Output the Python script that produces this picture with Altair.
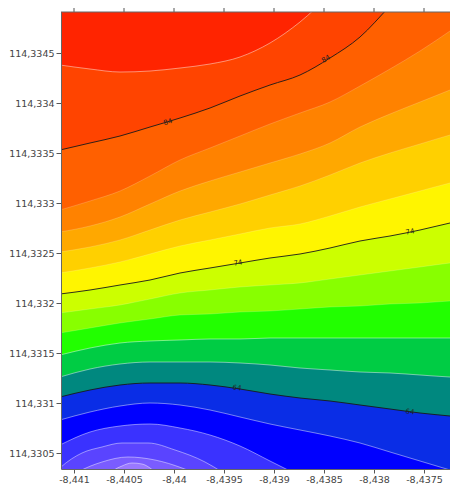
import altair as alt
import pandas as pd

# ---------------- data ----------------
X_DOMAIN = [-8.44113, -8.43724]
Y_DOMAIN = [114.33034, 114.33491]
X_TICKS = [-8.441, -8.4405, -8.44, -8.4395, -8.439, -8.4385, -8.438, -8.4375]
Y_TICKS = [114.3305, 114.331, 114.3315, 114.332, 114.3325, 114.333, 114.3335, 114.334, 114.3345]

X_GRID = [-8.44114, -8.44084, -8.44054, -8.44024, -8.43994, -8.43964, -8.43934, -8.43904,
          -8.43874, -8.43844, -8.43814, -8.43784, -8.43754, -8.43724, -8.43694]

C86 = [114.33438, 114.33434, 114.33431, 114.33432, 114.33435, 114.33439, 114.33446, 114.33460,
       114.33481, 114.33508, 114.33533, 114.33558, 114.33583, 114.33608, 114.33633]
C84 = [114.33353, 114.33360, 114.33367, 114.33376, 114.33385, 114.33395, 114.33407, 114.33418,
       114.33428, 114.33445, 114.33466, 114.33497, 114.33528, 114.33558, 114.33588]
C82 = [114.33293, 114.33302, 114.33312, 114.33327, 114.33343, 114.33355, 114.33367, 114.33379,
       114.33390, 114.33401, 114.33417, 114.33434, 114.33452, 114.33472, 114.33493]
C80 = [114.33271, 114.33277, 114.33286, 114.33299, 114.33312, 114.33322, 114.33331, 114.33340,
       114.33349, 114.33360, 114.33376, 114.33389, 114.33401, 114.33413, 114.33425]
C78 = [114.33251, 114.33256, 114.33263, 114.33273, 114.33283, 114.33291, 114.33299, 114.33308,
       114.33317, 114.33328, 114.33340, 114.33350, 114.33359, 114.33368, 114.33376]
C76 = [114.33230, 114.33235, 114.33241, 114.33249, 114.33257, 114.33263, 114.33269, 114.33275,
       114.33279, 114.33287, 114.33296, 114.33304, 114.33312, 114.33320, 114.33327]
C74 = [114.33209, 114.33213, 114.33218, 114.33223, 114.33230, 114.33235, 114.33240, 114.33245,
       114.33249, 114.33255, 114.33262, 114.33267, 114.33273, 114.33280, 114.33286]
C72 = [114.33190, 114.33194, 114.33198, 114.33204, 114.33210, 114.33213, 114.33216, 114.33218,
       114.33220, 114.33224, 114.33228, 114.33232, 114.33236, 114.33240, 114.33243]
C70 = [114.33170, 114.33175, 114.33180, 114.33184, 114.33188, 114.33189, 114.33191, 114.33192,
       114.33194, 114.33196, 114.33197, 114.33199, 114.33200, 114.33202, 114.33203]
C68 = [114.33148, 114.33155, 114.33160, 114.33162, 114.33163, 114.33164, 114.33164, 114.33165,
       114.33165, 114.33165, 114.33165, 114.33165, 114.33165, 114.33165, 114.33165]
C66 = [114.33126, 114.33134, 114.33139, 114.33141, 114.33141, 114.33141, 114.33140, 114.33138,
       114.33135, 114.33133, 114.33131, 114.33130, 114.33128, 114.33126, 114.33125]
C64 = [114.33106, 114.33113, 114.33118, 114.33120, 114.33120, 114.33118, 114.33114, 114.33109,
       114.33105, 114.33102, 114.33098, 114.33094, 114.33090, 114.33087, 114.33084]
C62 = [114.33083, 114.33091, 114.33097, 114.33100, 114.33098, 114.33093, 114.33086, 114.33079,
       114.33073, 114.33067, 114.33060, 114.33051, 114.33042, 114.33033, 114.33024]
C60 = [114.33058, 114.33071, 114.33077, 114.33079, 114.33075, 114.33068, 114.33057, 114.33042,
       114.33027, 114.33012, 114.32997, 114.32982, 114.32967, 114.32952, 114.32937]

C58_X = [-8.44124, -8.44113, -8.44092, -8.44072, -8.44052, -8.44026, -8.43999, -8.43969, -8.43952, -8.43929]
C58_Y = [114.33025, 114.33036, 114.33050, 114.33056, 114.33060, 114.33060, 114.33053, 114.33041, 114.33031, 114.33015]
C56_X = [-8.44124, -8.44114, -8.44096, -8.44072, -8.44046, -8.44019, -8.43992, -8.43982, -8.43964]
C56_Y = [114.33013, 114.33019, 114.33031, 114.33041, 114.33046, 114.33043, 114.33035, 114.33031, 114.33021]
C54_X = [-8.44069, -8.44062, -8.44052, -8.44042, -8.44032, -8.44024, -8.44019, -8.44012]
C54_Y = [114.33021, 114.33031, 114.33037, 114.33040, 114.33039, 114.33035, 114.33031, 114.33023]

LEVELS = [86, 84, 82, 80, 78, 76, 74, 72, 70, 68, 66, 64, 62, 60, 58, 56, 54]
MAJOR = [84, 74, 64]
FAINT = [82, 80, 78, 76, 72, 70]

LABEL_TEXT = ["84", "84", "74", "74", "64", "64"]
LABEL_X = [-8.44006, -8.43848, -8.43936, -8.43764, -8.43937, -8.43764]
LABEL_Y = [114.33381, 114.33444, 114.33240, 114.33271, 114.33115, 114.33091]
LABEL_ANGLE = [343, 329, 351, 349, 7, 6]

# ---------------- styles ----------------
TOP_COLOR = "#FF2400"
BAND_BELOW = ["#FF4400", "#FF6000", "#FF8200", "#FFA800", "#FFD000", "#FFF500",
              "#CCFF00", "#88FF00", "#22FF00", "#00CC44", "#00887F", "#0A2DE6",
              "#0000FF", "#3A32FF", "#5A44FF", "#7A5CFF", "#9A78FF"]
FONT = "DejaVu Sans"
PLOT_W, PLOT_H = 389, 457

# ---------------- build table ----------------
grid_curves = {86: C86, 84: C84, 82: C82, 80: C80, 78: C78, 76: C76, 74: C74, 72: C72,
               70: C70, 68: C68, 66: C66, 64: C64, 62: C62, 60: C60}
rows = []
for lev, ys_ in grid_curves.items():
    for xv, yv in zip(X_GRID, ys_):
        rows.append({"level": lev, "x": xv, "y": yv})
for lev, xs_, ys_ in [(58, C58_X, C58_Y), (56, C56_X, C56_Y), (54, C54_X, C54_Y)]:
    for xv, yv in zip(xs_, ys_):
        rows.append({"level": lev, "x": xv, "y": yv})
df = pd.DataFrame(rows)

labels_df = pd.DataFrame({"t": LABEL_TEXT, "x": LABEL_X, "y": LABEL_Y, "a": LABEL_ANGLE})

xs = alt.Scale(domain=X_DOMAIN, nice=False, zero=False)
ys = alt.Scale(domain=Y_DOMAIN, nice=False, zero=False)

label_expr = "replace(replace(format(datum.value, '.4~f'), '.', ','), '\u2212', '-')"
x_axis = alt.Axis(values=X_TICKS, labelExpr=label_expr, title=None, grid=False,
                  tickSize=4, tickColor="#555", domainColor="#666", labelColor="#444",
                  labelFont=FONT, labelFontSize=9.5, labelPadding=1, zindex=1)
y_axis = alt.Axis(values=Y_TICKS, labelExpr=label_expr, title=None, grid=False,
                  tickSize=5, tickColor="#555", domainColor="#666", labelColor="#444",
                  labelFont=FONT, labelFontSize=9.5, labelPadding=2, zindex=1)

X_ENC = alt.X("x:Q", scale=xs, axis=x_axis)
Y_ENC = alt.Y("y:Q", scale=ys, axis=y_axis)

layers = []
for i, lev in enumerate(LEVELS):
    layers.append(
        alt.Chart(df[df.level == lev]).mark_area(
            clip=True, interpolate="monotone", color=BAND_BELOW[i]
        ).encode(x=X_ENC, y=Y_ENC, y2=alt.datum(114.32))
    )

faint_lines = alt.Chart(df[df.level.isin(FAINT)]).mark_line(
    clip=True, interpolate="monotone", color="white", strokeWidth=1, opacity=0.18
).encode(x=X_ENC, y=Y_ENC, detail="level:N")

minor_lines = alt.Chart(df[~df.level.isin(MAJOR + FAINT)]).mark_line(
    clip=True, interpolate="monotone", color="white", strokeWidth=1, opacity=0.45
).encode(x=X_ENC, y=Y_ENC, detail="level:N")

major_lines = alt.Chart(df[df.level.isin(MAJOR)]).mark_line(
    clip=True, interpolate="monotone", color="#1a1a1a", strokeWidth=1, opacity=0.9
).encode(x=X_ENC, y=Y_ENC, detail="level:N")

labels = alt.Chart(labels_df).mark_text(fontSize=7, color="#222", font=FONT).encode(
    x=X_ENC, y=Y_ENC, text="t:N", angle=alt.Angle("a:Q", scale=None))

top_ticks = alt.Chart(pd.DataFrame({"x": X_TICKS})).mark_rule(color="#555").encode(
    x=X_ENC, y=alt.value(-4), y2=alt.value(0))

top_border = alt.Chart(pd.DataFrame({"x": X_DOMAIN[:1]})).mark_rule(color="#666").encode(
    x=alt.value(0), x2=alt.value(PLOT_W), y=alt.value(0))

chart = alt.layer(*layers, faint_lines, minor_lines, major_lines, labels, top_ticks,
                  top_border).properties(
    width=PLOT_W, height=PLOT_H,
    padding={"left": 53, "top": 4, "right": 0, "bottom": 17},
    autosize=alt.AutoSizeParams(type="none"),
).configure_view(fill=TOP_COLOR, stroke=None)

chart.save("out.html", embed_options={"renderer": "svg", "actions": False})
